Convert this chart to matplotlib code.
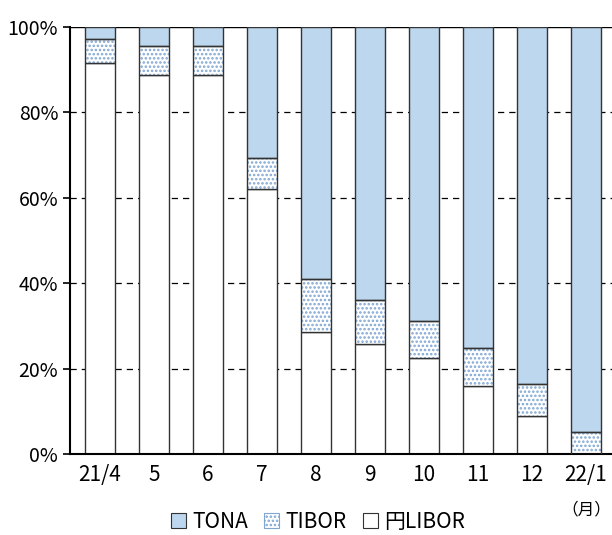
import matplotlib
matplotlib.use("Agg")
import matplotlib.pyplot as plt
import matplotlib.ticker as mticker
import numpy as np
from matplotlib.patches import Patch

plt.rcParams['font.family'] = ['Noto Sans CJK JP', 'DejaVu Sans']

categories = ["21/4", "5", "6", "7", "8", "9", "10", "11", "12", "22/1"]
libor = [91.6, 88.8, 88.8, 62.1, 28.6, 25.8, 22.5, 15.9, 8.9, 0.0]
tibor = [5.6, 6.7, 6.7, 7.2, 12.4, 10.3, 8.6, 8.9, 7.5, 5.2]
tona = [100 - a - b for a, b in zip(libor, tibor)]

tona_color = "#BDD7EE"
dot_color = "#7FA6D2"

fig = plt.figure(figsize=(6.12, 5.35), dpi=100)
ax = fig.add_axes([70/612, 1-454/535, 1-70/612, (454-27)/535])

x = np.arange(len(categories))
w = 0.57
plt.rcParams['hatch.linewidth'] = 1.2

# grid lines
for yv in [20, 40, 60, 80]:
    ax.axhline(yv, color="black", lw=0.9, ls=(0, (5, 4)), zorder=0)
ax.axhline(100, color="black", lw=1.0, zorder=0)

ax.bar(x, libor, w, color="white", edgecolor="#333333", lw=1.0, zorder=2)
# TIBOR dotted fill
ax.bar(x, tibor, w, bottom=libor, color="white", edgecolor=dot_color, hatch="....", lw=0, zorder=2)
ax.bar(x, tibor, w, bottom=libor, color="none", edgecolor="#333333", lw=1.0, zorder=3)
bot2 = [a + b for a, b in zip(libor, tibor)]
ax.bar(x, tona, w, bottom=bot2, color=tona_color, edgecolor="#333333", lw=1.0, zorder=2)

ax.set_ylim(0, 100)
ax.set_xlim(-0.555, 9.48)
ax.yaxis.set_major_locator(mticker.MultipleLocator(20))
ax.yaxis.set_major_formatter(mticker.FuncFormatter(lambda v, p: f"{int(v)}%"))
ax.set_xticks(x)
ax.set_xticklabels(categories)
ax.tick_params(axis='x', length=0, labelsize=15, pad=7)
ax.tick_params(axis='y', length=5, direction='out', labelsize=14, width=1.2)
for s in ["top", "right"]:
    ax.spines[s].set_visible(False)
ax.spines["left"].set_linewidth(1.5)
ax.spines["bottom"].set_linewidth(1.5)

ax.text(9, -13.0, "（月）", ha="center", va="center", fontsize=12, transform=ax.transData, clip_on=False)

handles = [
    Patch(facecolor=tona_color, edgecolor="#333333", lw=0.8, label="TONA"),
    Patch(facecolor="white", edgecolor=dot_color, hatch="....", lw=0.8, label="TIBOR"),
    Patch(facecolor="white", edgecolor="#333333", lw=0.8, label="円LIBOR"),
]
fig.legend(handles=handles, loc="center", bbox_to_anchor=(318/612, 1-522/535), ncol=3,
           frameon=False, fontsize=15, handlelength=0.7, handleheight=0.7,
           handletextpad=0.3, columnspacing=0.8)

fig.savefig("out.png", dpi=100)
